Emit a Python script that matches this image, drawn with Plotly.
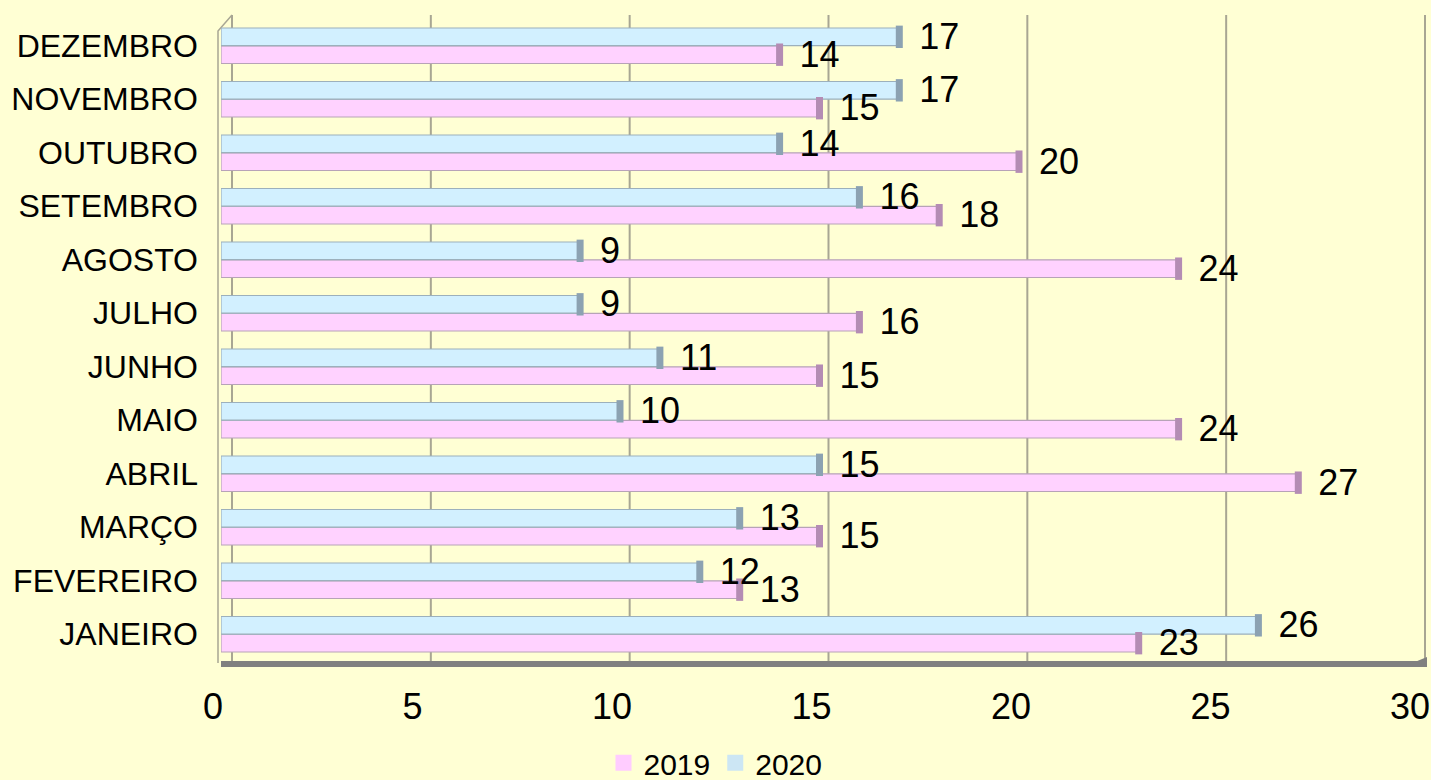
import numpy as np
import plotly.graph_objects as go

months = ["JANEIRO", "FEVEREIRO", "MARÇO", "ABRIL", "MAIO", "JUNHO",
          "JULHO", "AGOSTO", "SETEMBRO", "OUTUBRO", "NOVEMBRO", "DEZEMBRO"]
v2019 = [23, 13, 15, 27, 24, 15, 16, 24, 18, 20, 15, 14]
v2020 = [26, 12, 13, 15, 10, 11, 9, 9, 16, 14, 17, 17]
x_ticks = [0, 5, 10, 15, 20, 25, 30]

W, H = 1431, 780
L, R, T, B = 221, 4, 19, 119
PW, PH = W - L - R, H - T - B
XMAX = 30 * PW / 1197          # so that 30 sits at ~1418 px (front plane)
idx = np.arange(len(months))
off = 0.167
bw = 0.33
band_px = PH / len(months)

FONT = "Liberation Sans, Arial, sans-serif"
BG = "#FFFFD4"
GRID = "#A8A693"

fig = go.Figure()
series = [
    ("2019", v2019, idx - off, "#FFD2FF", "#B7A3B7", "#B48CB4", "#FFCCFF"),
    ("2020", v2020, idx + off, "#D2F0FF", "#9CB0BC", "#8CA2B2", "#CCE6F4"),
]
for name, vals, ys, fill, edge, cap, sw in series:
    fig.add_trace(go.Bar(
        name=name, orientation="h", x=vals, y=ys, width=bw, showlegend=False,
        marker=dict(color=fill, line=dict(color=edge, width=1.2)),
        hoverinfo="x",
    ))
for name, vals, ys, fill, edge, cap, sw in series:
    # cylinder end caps
    fig.add_trace(go.Scatter(
        x=vals, y=ys, mode="markers", showlegend=False,
        marker=dict(symbol="line-ns", size=16, line=dict(color=cap, width=7)),
        cliponaxis=False, hoverinfo="skip",
    ))
for name, vals, ys, fill, edge, cap, sw in series:
    # value labels, nudged ~3 px down like the original
    fig.add_trace(go.Scatter(
        x=vals, y=ys - 3 / band_px, mode="text", showlegend=False,
        text=["  " + str(v) for v in vals], textposition="middle right",
        textfont=dict(family=FONT, size=36, color="#000000"),
        cliponaxis=False, hoverinfo="skip",
    ))
for name, vals, ys, fill, edge, cap, sw in series:
    # legend swatches (filled squares)
    fig.add_trace(go.Scatter(
        x=[None], y=[None], mode="markers", name=name,
        marker=dict(symbol="square", size=18, color=sw, line=dict(width=0)),
    ))

# back-wall gridlines (slightly shifted for the 3D look)
for t in x_ticks:
    dx = 11 - t * 4 / 30
    fig.add_shape(type="line", xref="x", yref="paper", xsizemode="pixel",
                  xanchor=t, x0=dx, x1=dx, y0=0.0, y1=1.0 + 4 / PH,
                  line=dict(color=GRID, width=2), layer="below")

def px(x): return (x - L) / PW
def py(y): return (H - B - y) / PH
# left wall edge with the small 3D slant at the top
fig.add_shape(type="path", xref="paper", yref="paper",
              path=f"M {px(218)},{py(663)} L {px(218)},{py(31)} L {px(232)},{py(15)}",
              line=dict(color=GRID, width=1.5), layer="below")
# slanted right end of the floor slab
fig.add_shape(type="path", xref="paper", yref="paper",
              path=f"M {px(1410)},{py(664)} L {px(1427)},{py(657)} L {px(1427)},{py(661)} L {px(1412)},{py(664)} Z",
              line=dict(width=0), fillcolor="#808080", layer="above")

fig.update_layout(
    width=W, height=H,
    margin=dict(l=L, r=R, t=T, b=B, autoexpand=False),
    paper_bgcolor=BG, plot_bgcolor=BG,
    barmode="overlay",
    font=dict(family=FONT, color="#000000"),
    showlegend=True,
    legend=dict(orientation="h", x=0.5, xref="container", xanchor="center",
                y=0.022, yref="container", yanchor="middle", font=dict(size=30),
                bgcolor="rgba(0,0,0,0)", tracegroupgap=0, itemwidth=30),
    xaxis=dict(range=[0, XMAX], tickvals=x_ticks, showgrid=False, zeroline=False,
               showline=True, linecolor="#808080", linewidth=6,
               ticks="", ticklabelstandoff=9, ticklabelshift=-8,
               ticklabeloverflow="allow", tickfont=dict(size=36)),
    yaxis=dict(range=[-0.5, 11.5], tickvals=list(idx), ticktext=months,
               showgrid=False, zeroline=False, showline=False, ticks="",
               ticklabelstandoff=22, tickfont=dict(size=32)),
)
fig.write_html("out.html", config={"displayModeBar": False},
               post_script="document.body.style.margin='0';document.body.style.overflow='hidden';")
